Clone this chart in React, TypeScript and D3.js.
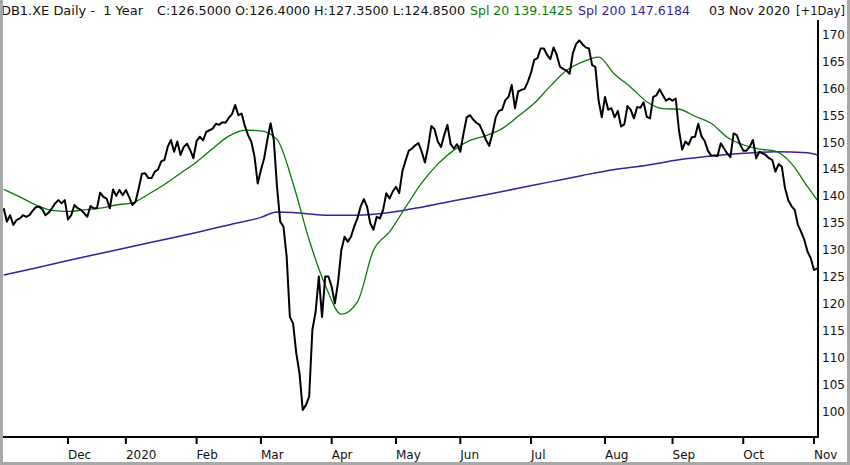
import * as d3 from 'd3';

const W = 850;
const H = 465;

// daily closes, one per Xetra trading day, 04 Nov 2019 .. 03 Nov 2020
const closes = [
  137.7, 135.2, 136.4, 134.6, 135.5, 135.8, 136.4, 136.1, 136.4, 137.2,
  137.9, 138.0, 137.5, 136.4, 136.9, 137.7, 138.6, 139.2, 138.6, 139.2,
  135.6, 136.4, 138.3, 137.7, 137.4, 136.8, 136.1, 138.1, 137.7, 137.7,
  140.6, 139.8, 139.5, 137.7, 141.2, 140.0, 141.1, 140.1, 141.1, 139.8,
  138.3, 138.9, 141.4, 144.1, 144.2, 143.3, 143.3, 144.5, 144.9, 146.4,
  146.7, 149.1, 150.4, 148.2, 150.1, 147.6, 149.1, 149.7, 148.5, 147.0,
  150.2, 151.0, 150.3, 151.9, 152.2, 152.5, 153.4, 153.2, 153.7, 153.6,
  154.5, 155.2, 156.9, 155.0, 155.3, 153.0, 151.3, 150.1, 147.3, 142.3,
  144.8, 147.0, 150.4, 153.5, 150.4, 141.7, 135.2, 134.3, 128.7, 117.5,
  116.3, 110.7, 107.0, 100.2, 101.1, 102.7, 115.1, 118.4, 125.0, 117.5,
  125.0, 125.0, 123.1, 120.0, 124.0, 129.9, 132.4, 131.5, 132.4, 134.3,
  135.8, 138.0, 139.4, 138.0, 134.9, 133.7, 136.1, 135.8, 137.4, 140.5,
  139.5, 140.8, 141.7, 140.5, 144.6, 146.6, 148.4, 148.8, 149.4, 149.8,
  148.2, 146.2, 149.1, 153.0, 152.4, 150.1, 149.1, 151.3, 153.2, 149.6,
  148.8, 149.6, 148.2, 151.6, 154.6, 155.0, 154.2, 153.6, 153.2, 151.9,
  150.4, 149.3, 151.6, 154.6, 155.8, 156.0, 157.8, 158.4, 160.6, 156.3,
  159.4, 159.7, 159.9, 161.2, 162.9, 165.3, 165.6, 167.4, 167.4, 166.2,
  165.4, 167.6, 166.2, 164.0, 163.6, 163.3, 162.7, 166.5, 168.2, 168.9,
  168.2, 167.6, 167.4, 164.3, 164.0, 157.8, 154.6, 158.4, 156.0, 156.3,
  154.6, 155.8, 152.9, 153.3, 156.7, 156.0, 154.4, 156.5, 156.4, 157.4,
  154.7, 154.4, 158.4, 158.7, 159.8, 158.7, 157.7, 158.1, 157.7, 158.1,
  152.2, 148.6, 150.1, 149.5, 150.9, 151.0, 153.4, 151.1, 150.2, 148.4,
  147.5, 147.5, 147.4, 149.8, 148.8, 147.9, 147.2, 151.6, 151.3, 149.6,
  148.4, 148.4, 149.1, 150.4, 147.0, 148.2, 147.9, 147.6, 147.0, 146.7,
  144.5, 145.9, 145.4, 141.4, 139.2, 138.1, 137.4, 134.6, 133.3, 131.8,
  129.6, 128.4, 126.2, 126.5,
];

// Spl 20, read at every 5th trading day
const spl20Idx = [
  0, 5, 10, 15, 20, 25, 30, 35, 40, 45, 50, 55, 60, 65, 70, 75, 80, 85, 90, 95,
  100, 105, 110, 115, 120, 125, 130, 135, 140, 145, 150, 155, 160, 165, 170, 175,
  180, 185, 190, 195, 200, 205, 210, 215, 220, 225, 230, 235, 240, 245, 250, 253,
];
const spl20Val = [
  141.2, 139.8, 138.3, 137.3, 137.1, 137.4, 137.7, 138.3, 138.7, 140.3, 142.1, 144.2,
  146.3, 148.8, 151.1, 152.2, 152.1, 150.5, 142.3, 131.8, 123.4, 118.0, 120.3, 129.9,
  133.3, 137.9, 142.4, 145.9, 148.5, 150.3, 151.2, 152.5, 154.8, 157.2, 160.4, 163.3,
  164.9, 165.8, 162.6, 160.2, 157.5, 156.2, 156.1, 154.8, 153.5, 150.9, 149.5, 148.7,
  148.3, 146.0, 141.7, 139.2,
];

// Spl 200, read at every 10th trading day
const spl200Idx = [
  0, 10, 20, 30, 40, 50, 60, 70, 80, 85, 90, 100, 110, 120, 130, 140, 150, 160,
  170, 180, 190, 200, 210, 220, 230, 240, 250, 253,
];
const spl200Val = [
  125.3, 126.6, 128.0, 129.3, 130.6, 131.9, 133.2, 134.6, 136.0, 137.0, 136.9, 136.4,
  136.4, 136.9, 137.9, 139.1, 140.2, 141.4, 142.6, 143.8, 144.9, 145.7, 146.7, 147.4,
  147.9, 148.2, 148.0, 147.6,
];

// first trading day of each month
const monthLabels = ['Dec', '2020', 'Feb', 'Mar', 'Apr', 'May', 'Jun', 'Jul', 'Aug', 'Sep', 'Oct', 'Nov'];
const monthIdx = [20, 38, 60, 80, 102, 122, 142, 164, 187, 208, 230, 252];

const yTicks = [170, 165, 160, 155, 150, 145, 140, 135, 130, 125, 120, 115, 110, 105, 100];

const FONT = '"DejaVu Sans", Verdana, sans-serif';
const GREEN = '#0b7a0b';
const PURPLE = '#3a1f9a';
const AXIS_X = 818;
const AXIS_Y = 437;

export default function App() {
  const x = d3.scaleLinear().domain([20, 252]).range([68, 814]);
  const y = d3.scaleLinear().domain([100, 170]).range([411, 34.5]);

  const priceLine = d3
    .line<number>()
    .x((_, i) => x(i))
    .y((d) => y(d));

  const smooth = d3
    .line<[number, number]>()
    .x((d) => x(d[0]))
    .y((d) => y(d[1]))
    .curve(d3.curveMonotoneX);

  const spl20 = spl20Idx.map((d, i) => [d, spl20Val[i]] as [number, number]);
  const spl200 = spl200Idx.map((d, i) => [d, spl200Val[i]] as [number, number]);

  return (
    <svg
      width={W}
      height={H}
      style={{ position: 'absolute', left: 0, top: 0, background: '#fff' }}
      fontFamily={FONT}
    >
      <rect x={0} y={0} width={W} height={H} fill="#fff" />

      {/* header */}
      <g fontSize={12} fill="#111">
        <text x={1} y={15} textLength={142} lengthAdjust="spacingAndGlyphs">
          DB1.XE Daily - {'\u00a0'}1 Year
        </text>
        <text x={157} y={15} textLength={308} lengthAdjust="spacingAndGlyphs">
          C:126.5000 O:126.4000 H:127.3500 L:124.8500
        </text>
        <text x={470} y={15} fill={GREEN} textLength={103} lengthAdjust="spacingAndGlyphs">
          Spl 20 139.1425
        </text>
        <text x={578} y={15} fill={PURPLE} textLength={112} lengthAdjust="spacingAndGlyphs">
          Spl 200 147.6184
        </text>
        <text x={709} y={15} textLength={81} lengthAdjust="spacingAndGlyphs">
          03 Nov 2020
        </text>
        <text x={796} y={15} textLength={49} lengthAdjust="spacingAndGlyphs">
          [+1Day]
        </text>
      </g>

      {/* series */}
      <path d={smooth(spl200) ?? ''} fill="none" stroke={PURPLE} strokeWidth={1.5} />
      <path d={smooth(spl20) ?? ''} fill="none" stroke={GREEN} strokeWidth={1.3} />
      <path
        d={priceLine(closes) ?? ''}
        fill="none"
        stroke="#000"
        strokeWidth={2}
        strokeLinejoin="round"
      />

      {/* axes */}
      <line x1={3} x2={AXIS_X + 1} y1={AXIS_Y} y2={AXIS_Y} stroke="#000" strokeWidth={2} />
      <line x1={AXIS_X} x2={AXIS_X} y1={20} y2={AXIS_Y + 1} stroke="#000" strokeWidth={2} />

      <g fontSize={12} fill="#111">
        {yTicks.map((v) => (
          <text key={v} x={822} y={y(v) + 4.5}>
            {v}
          </text>
        ))}
      </g>

      <g fontSize={12} fill="#111">
        {monthIdx.map((m, i) => (
          <g key={monthLabels[i]}>
            <line x1={x(m)} x2={x(m)} y1={AXIS_Y} y2={AXIS_Y + 7} stroke="#000" strokeWidth={2} />
            <text x={x(m)} y={459}>
              {monthLabels[i]}
            </text>
          </g>
        ))}
      </g>

      {/* window frame */}
      <rect x={0} y={0} width={3} height={H} fill="#a9a9a9" />
      <rect x={W - 3} y={0} width={3} height={H} fill="#a9a9a9" />
      <rect x={0} y={H - 3} width={W} height={3} fill="#a9a9a9" />
    </svg>
  );
}
